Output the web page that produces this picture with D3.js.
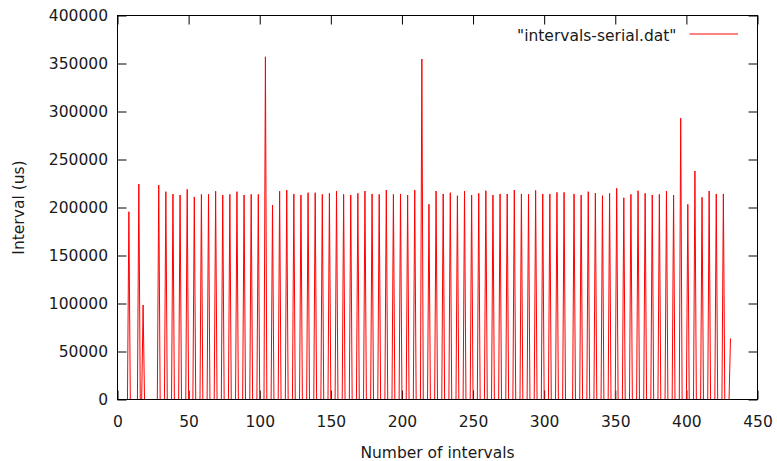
<!DOCTYPE html>
<html>
<head>
<meta charset="utf-8">
<script src="https://cdn.jsdelivr.net/npm/d3@7"></script>
<style>
  body { margin: 0; background: #fff; }
  svg { display: block; }
  text { font-family: "DejaVu Sans", sans-serif; }
</style>
</head>
<body>
<script>

// tick labels
var xTicks = [0, 50, 100, 150, 200, 250, 300, 350, 400, 450]
var yTicks = [0, 50000, 100000, 150000, 200000, 250000, 300000, 350000, 400000]

var seriesLabel = '"intervals-serial.dat"'

// interval (us) for every sample, 5 values per row
var intervals = [
    0, 0, 0, 0, 0,
    0, 0, 0, 195600, 0,
    0, 0, 0, 0, 0,
    224500, 0, 0, 98400, 0,
    0, 0, 0, 0, 0,
    0, 0, 0, 0, 223400,          // 25
    0, 0, 0, 0, 216500,
    0, 0, 0, 0, 214000,
    0, 0, 0, 0, 213000,
    0, 0, 0, 0, 219000,
    0, 0, 0, 0, 211000,          // 50
    0, 0, 0, 0, 213700,
    0, 0, 0, 0, 213700,
    0, 0, 0, 0, 217000,
    0, 0, 0, 0, 213000,
    0, 0, 0, 0, 213700,          // 75
    0, 0, 0, 0, 216500,
    0, 0, 0, 0, 213000,
    0, 0, 0, 0, 213700,
    0, 0, 0, 0, 213700,
    0, 0, 0, 0, 357000,          // 100
    0, 0, 0, 0, 202600,
    0, 0, 0, 0, 217000,
    0, 0, 0, 0, 218200,
    0, 0, 0, 0, 214100,
    0, 0, 0, 0, 213000,          // 125
    0, 0, 0, 0, 215400,
    0, 0, 0, 0, 215400,
    0, 0, 0, 0, 213700,
    0, 0, 0, 0, 214800,
    0, 0, 0, 0, 217200,          // 150
    0, 0, 0, 0, 213700,
    0, 0, 0, 0, 213000,
    0, 0, 0, 0, 214800,
    0, 0, 0, 0, 217200,
    0, 0, 0, 0, 214100,          // 175
    0, 0, 0, 0, 213700,
    0, 0, 0, 0, 218200,
    0, 0, 0, 0, 213700,
    0, 0, 0, 0, 214100,
    0, 0, 0, 0, 213000,          // 200
    0, 0, 0, 0, 218200,
    0, 0, 0, 0, 354700,
    0, 0, 0, 0, 203300,
    0, 0, 0, 0, 217200,
    0, 0, 0, 0, 214100,          // 225
    0, 0, 0, 0, 215400,
    0, 0, 0, 0, 212300,
    0, 0, 0, 0, 217200,
    0, 0, 0, 0, 213000,
    0, 0, 0, 0, 214800,          // 250
    0, 0, 0, 0, 217500,
    0, 0, 0, 0, 213000,
    0, 0, 0, 0, 214100,
    0, 0, 0, 0, 214100,
    0, 0, 0, 0, 218200,          // 275
    0, 0, 0, 0, 214100,
    0, 0, 0, 0, 213700,
    0, 0, 0, 0, 217800,
    0, 0, 0, 0, 214100,
    0, 0, 0, 0, 214100,          // 300
    0, 0, 0, 0, 215800,
    0, 0, 0, 0, 215800,
    0, 0, 0, 0, 0,
    0, 214100, 0, 0, 0,
    0, 213000, 0, 0, 0,          // 325
    0, 216500, 0, 0, 0,
    0, 215000, 0, 0, 0,
    0, 212300, 0, 0, 0,
    0, 214800, 0, 0, 0,
    0, 220000, 0, 0, 0,          // 350
    0, 210200, 0, 0, 0,
    0, 213700, 0, 0, 0,
    0, 217500, 0, 0, 0,
    0, 214800, 0, 0, 0,
    0, 213000, 0, 0, 0,          // 375
    0, 213700, 0, 0, 0,
    0, 217200, 0, 0, 0,
    0, 213000, 0, 0, 0,
    0, 293000, 0, 0, 0,
    0, 203300, 0, 0, 0,          // 400
    0, 238000, 0, 0, 0,
    0, 210600, 0, 0, 0,
    0, 217200, 0, 0, 0,
    0, 214100, 0, 0, 0,
    0, 214100, 0, 0, 0,          // 425
    0, 63700
]

var width = 777,
    height = 461,
    margin = ({ top: 15.5, right: 19.5, bottom: 61.5, left: 117.5 }),
    fontSize = 15.5,
    textColor = "#1a1a1a"

var x = d3.scaleLinear()
    .domain([0, 450])
    .range([margin.left, width - margin.right])

var y = d3.scaleLinear()
    .domain([0, 400000])
    .range([height - margin.bottom, margin.top])

var svg = d3.select("body").append("svg")
    .attr("width", width)
    .attr("height", height)
    .attr("viewBox", [0, 0, width, height])

var styleAxis = g => g
    .call(g => g.select(".domain").remove())
    .call(g => g.selectAll(".tick line").attr("stroke", "#000"))
    .call(g => g.selectAll(".tick text")
        .attr("fill", textColor)
        .attr("font-size", fontSize)
        .attr("font-family", "DejaVu Sans, sans-serif"))

// bottom + left with labels, top + right mirrored ticks only
svg.append("g")
    .attr("transform", `translate(0, ${height - margin.bottom})`)
    .call(d3.axisBottom(x).tickValues(xTicks).tickSizeInner(-9).tickSizeOuter(0).tickPadding(16))
    .call(styleAxis)

svg.append("g")
    .attr("transform", `translate(0, ${margin.top})`)
    .call(d3.axisTop(x).tickValues(xTicks).tickSizeInner(-9).tickSizeOuter(0).tickFormat(""))
    .call(styleAxis)

svg.append("g")
    .attr("transform", `translate(${margin.left}, 0)`)
    .call(d3.axisLeft(y).tickValues(yTicks).tickSizeInner(-9).tickSizeOuter(0).tickPadding(9.5).tickFormat(d3.format("d")))
    .call(styleAxis)

svg.append("g")
    .attr("transform", `translate(${width - margin.right}, 0)`)
    .call(d3.axisRight(y).tickValues(yTicks).tickSizeInner(-9).tickSizeOuter(0).tickFormat(""))
    .call(styleAxis)

// the series
var line = d3.line()
    .x((d, i) => x(i))
    .y(d => y(d))

svg.append("path")
    .datum(intervals)
    .attr("fill", "none")
    .attr("stroke", "#ff0000")
    .attr("stroke-width", 1)
    .attr("d", line)

// frame
svg.append("rect")
    .attr("x", margin.left)
    .attr("y", margin.top)
    .attr("width", width - margin.right - margin.left)
    .attr("height", height - margin.bottom - margin.top)
    .attr("fill", "none")
    .attr("stroke", "#000")
    .attr("stroke-width", 1)

// legend
svg.append("text")
    .attr("x", 676.5)
    .attr("y", 40.5)
    .attr("text-anchor", "end")
    .attr("font-size", fontSize)
    .attr("fill", textColor)
    .text(seriesLabel)

svg.append("line")
    .attr("x1", 689.5)
    .attr("x2", 738)
    .attr("y1", 34)
    .attr("y2", 34)
    .attr("stroke", "#ff0000")
    .attr("stroke-width", 1)

// axis titles
svg.append("text")
    .attr("x", (margin.left + width - margin.right) / 2)
    .attr("y", 458)
    .attr("text-anchor", "middle")
    .attr("font-size", fontSize)
    .attr("fill", textColor)
    .text("Number of intervals")

svg.append("text")
    .attr("transform", `translate(24, ${(margin.top + height - margin.bottom) / 2}) rotate(-90)`)
    .attr("text-anchor", "middle")
    .attr("font-size", fontSize)
    .attr("fill", textColor)
    .text("Interval (us)")

</script>
</body>
</html>
